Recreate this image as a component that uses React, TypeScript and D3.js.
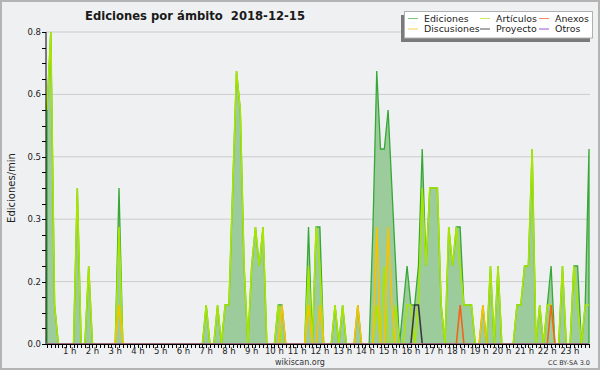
import * as d3 from 'd3';

// 10-minute slots, start minute of each one
const slots = d3.range(0, 1440, 10);
const hourLabels = ['1 h', '2 h', '3 h', '4 h', '5 h', '6 h', '7 h', '8 h', '9 h', '10 h', '11 h', '12 h',
  '13 h', '14 h', '15 h', '16 h', '17 h', '18 h', '19 h', '20 h', '21 h', '22 h', '23 h'];
const yTicks = [0, 0.16, 0.32, 0.48, 0.64, 0.8];

// edits per minute, 12 slots (2 hours) per row
const ediciones = [
  0.6, 0.8, 0.1, 0, 0, 0, 0, 0, 0.4, 0, 0, 0.2,
  0, 0, 0, 0, 0, 0, 0, 0.4, 0, 0, 0, 0,
  0, 0, 0, 0, 0, 0, 0, 0, 0, 0, 0, 0,
  0, 0, 0, 0, 0, 0, 0.1, 0, 0, 0.1, 0, 0.1,
  0.1, 0.4, 0.7, 0.6, 0.2, 0, 0.2, 0.3, 0.2, 0.3, 0, 0,
  0, 0.1, 0.1, 0, 0, 0, 0, 0, 0, 0.3, 0, 0.3,
  0.3, 0, 0, 0, 0.1, 0, 0.1, 0, 0, 0, 0.1, 0,
  0, 0, 0.3, 0.7, 0.5, 0.5, 0.6, 0.4, 0.2, 0, 0.1, 0.2,
  0.1, 0.1, 0.2, 0.5, 0.2, 0.4, 0.4, 0.4, 0.1, 0, 0.3, 0.2,
  0.3, 0.3, 0.1, 0.1, 0.1, 0, 0, 0.1, 0, 0.2, 0, 0.2,
  0, 0, 0, 0, 0.1, 0.1, 0.2, 0.2, 0.5, 0, 0.1, 0,
  0.1, 0.2, 0, 0, 0.2, 0, 0, 0.2, 0.2, 0, 0.1, 0.5,
];
const articulos = [
  0.6, 0.8, 0.1, 0, 0, 0, 0, 0, 0.4, 0, 0, 0.2,
  0, 0, 0, 0, 0, 0, 0, 0.3, 0, 0, 0, 0,
  0, 0, 0, 0, 0, 0, 0, 0, 0, 0, 0, 0,
  0, 0, 0, 0, 0, 0, 0.1, 0, 0, 0.1, 0, 0.1,
  0.1, 0.4, 0.7, 0.6, 0.2, 0, 0.2, 0.3, 0.2, 0.3, 0, 0,
  0, 0.1, 0, 0, 0, 0, 0, 0, 0, 0.2, 0, 0.3,
  0.2, 0, 0, 0, 0.1, 0, 0.1, 0, 0, 0, 0, 0,
  0, 0, 0, 0.1, 0, 0.2, 0, 0, 0.1, 0, 0, 0.1,
  0.1, 0, 0.1, 0.4, 0.2, 0.4, 0.4, 0.4, 0.1, 0, 0.3, 0.2,
  0.3, 0.2, 0.1, 0.1, 0.1, 0, 0, 0, 0, 0.2, 0, 0.2,
  0, 0, 0, 0, 0.1, 0.1, 0.2, 0.2, 0.5, 0, 0.1, 0,
  0.1, 0.1, 0, 0, 0.2, 0, 0, 0.2, 0.1, 0, 0.1, 0.1,
];
const discusiones = [
  0, 0, 0, 0, 0, 0, 0, 0, 0, 0, 0, 0,
  0, 0, 0, 0, 0, 0, 0, 0.1, 0, 0, 0, 0,
  0, 0, 0, 0, 0, 0, 0, 0, 0, 0, 0, 0,
  0, 0, 0, 0, 0, 0, 0, 0, 0, 0, 0, 0,
  0, 0, 0, 0, 0, 0, 0, 0, 0, 0, 0, 0,
  0, 0, 0.1, 0, 0, 0, 0, 0, 0, 0.1, 0, 0,
  0.1, 0, 0, 0, 0, 0, 0, 0, 0, 0, 0.1, 0,
  0, 0, 0, 0.3, 0, 0, 0.3, 0.1, 0, 0, 0, 0,
  0, 0, 0, 0, 0, 0, 0, 0, 0, 0, 0, 0,
  0, 0, 0, 0, 0, 0, 0, 0.1, 0, 0, 0, 0,
  0, 0, 0, 0, 0, 0, 0, 0, 0, 0, 0, 0,
  0, 0, 0, 0, 0, 0, 0, 0, 0, 0, 0, 0,
];
const anexos = [
  0, 0, 0, 0, 0, 0, 0, 0, 0, 0, 0, 0,
  0, 0, 0, 0, 0, 0, 0, 0, 0, 0, 0, 0,
  0, 0, 0, 0, 0, 0, 0, 0, 0, 0, 0, 0,
  0, 0, 0, 0, 0, 0, 0, 0, 0, 0, 0, 0,
  0, 0, 0, 0, 0, 0, 0, 0, 0, 0, 0, 0,
  0, 0, 0, 0, 0, 0, 0, 0, 0, 0, 0, 0,
  0, 0, 0, 0, 0, 0, 0, 0, 0, 0, 0, 0,
  0, 0, 0, 0, 0, 0, 0, 0, 0, 0, 0, 0,
  0, 0, 0, 0, 0, 0, 0, 0, 0, 0, 0, 0,
  0, 0.1, 0, 0, 0, 0, 0, 0, 0, 0, 0, 0,
  0, 0, 0, 0, 0, 0, 0, 0, 0, 0, 0, 0,
  0, 0.1, 0, 0, 0, 0, 0, 0, 0, 0, 0, 0,
];
const proyecto = [
  0, 0, 0, 0, 0, 0, 0, 0, 0, 0, 0, 0,
  0, 0, 0, 0, 0, 0, 0, 0, 0, 0, 0, 0,
  0, 0, 0, 0, 0, 0, 0, 0, 0, 0, 0, 0,
  0, 0, 0, 0, 0, 0, 0, 0, 0, 0, 0, 0,
  0, 0, 0, 0, 0, 0, 0, 0, 0, 0, 0, 0,
  0, 0, 0, 0, 0, 0, 0, 0, 0, 0, 0, 0,
  0, 0, 0, 0, 0, 0, 0, 0, 0, 0, 0, 0,
  0, 0, 0, 0, 0, 0, 0, 0, 0, 0, 0, 0,
  0, 0.1, 0.1, 0, 0, 0, 0, 0, 0, 0, 0, 0,
  0, 0, 0, 0, 0, 0, 0, 0, 0, 0, 0, 0,
  0, 0, 0, 0, 0, 0, 0, 0, 0, 0, 0, 0,
  0, 0, 0, 0, 0, 0, 0, 0, 0, 0, 0, 0,
];
const otros = slots.map(() => 0);

const lineSeries = [
  { name: 'Artículos', values: articulos, color: '#a8e600' },
  { name: 'Discusiones', values: discusiones, color: '#f7c200' },
  { name: 'Anexos', values: anexos, color: '#f26419' },
  { name: 'Proyecto', values: proyecto, color: '#3a3a3a' },
  { name: 'Otros', values: otros, color: '#9a4ae6' },
];
const legendItems = [
  { name: 'Ediciones', color: '#7cc87c' },
  { name: 'Artículos', color: '#c8ee60' },
  { name: 'Anexos', color: '#f58a60' },
  { name: 'Discusiones', color: '#f8d050' },
  { name: 'Proyecto', color: '#555555' },
  { name: 'Otros', color: '#9a55e0' },
];

const width = 600;
const height = 370;
const font = 'DejaVu Sans';

function App() {
  const x = d3.scaleLinear().domain([0, 1430]).range([47, 589]);
  const y = d3.scaleLinear().domain([0, 0.8]).range([344, 32]);

  const area = d3.area<number>()
    .x((_, i) => x(slots[i]))
    .y0(y(0))
    .y1((d) => y(d));
  const line = d3.line<number>()
    .x((_, i) => x(slots[i]))
    .y((d) => y(d));

  const minorY = d3.range(0, 0.8001, 0.04);
  const fmt = d3.format('.1f');
  const legendCols = [408, 480, 539];

  return (
    <>
      <style>{'body{margin:0}'}</style>
      <svg width={width} height={height} style={{ display: 'block', fontFamily: font }}>
        <defs>
          <clipPath id="plot">
            <rect x={46} y={0} width={545} height={343.6} />
          </clipPath>
        </defs>
        <rect x={1} y={1} width={width - 2} height={height - 2} fill="#eff0f2" stroke="#b4b4b4" strokeWidth={2} />

        <text x={85} y={19.5} fontSize={11.6} fontWeight="bold" fill="#1a1a1a" style={{ whiteSpace: 'pre' }}>
          {'Ediciones por ámbito  2018-12-15'}
        </text>

        {yTicks.slice(1).map((t) => (
          <line key={t} x1={46} x2={590} y1={y(t)} y2={y(t)} stroke="#cccccc" strokeWidth={1} />
        ))}

        <g clipPath="url(#plot)">
          <path d={area(ediciones) ?? ''} fill="#9ccb9c" stroke="#35a835" strokeWidth={1.3} />
          {lineSeries.map((s) => (
            <path key={s.name} d={line(s.values) ?? ''} fill="none" stroke={s.color} strokeWidth={1.6} />
          ))}
        </g>

        {/* y axis */}
        <line x1={46} x2={46} y1={32} y2={344.5} stroke="#000" />
        {minorY.map((t) => (
          <line key={t} x1={42} x2={46} y1={Math.round(y(t)) + 0.5} y2={Math.round(y(t)) + 0.5} stroke="#000" />
        ))}
        {yTicks.map((t) => (
          <text key={t} x={41} y={y(t)} dy="0.35em" textAnchor="end" fontSize={8.5} fill="#222">
            {fmt(t)}
          </text>
        ))}
        <text transform={`translate(15,${y(0.4)}) rotate(-90)`} textAnchor="middle" fontSize={10} fill="#222">
          Ediciones/min
        </text>

        {/* x axis */}
        <line x1={46} x2={590} y1={344.5} y2={344.5} stroke="#000" />
        {slots.map((m) => (
          <line key={m} x1={Math.round(x(m)) + 0.5} x2={Math.round(x(m)) + 0.5} y1={344} y2={348} stroke="#000" />
        ))}
        {hourLabels.map((label, i) => (
          <text key={label} x={x((i + 1) * 60)} y={354} textAnchor="middle" fontSize={8.5} fill="#222">
            {label}
          </text>
        ))}

        <text x={300} y={365} textAnchor="middle" fontSize={8} fill="#333">wikiscan.org</text>
        <text x={590} y={365} textAnchor="end" fontSize={6.5} fill="#333">CC BY-SA 3.0</text>

        {/* legend */}
        <rect x={401} y={15} width={189} height={27} fill="#7a7a7a" />
        <rect x={404.5} y={11.5} width={188} height={26.5} fill="#ffffff" stroke="#b0b0b0" />
        {legendItems.map((item, i) => {
          const lx = legendCols[i % 3];
          const ly = i < 3 ? 18.5 : 29;
          return (
            <g key={item.name}>
              <line x1={lx} x2={lx + 10} y1={ly} y2={ly} stroke={item.color} strokeWidth={1} />
              <text x={lx + 16} y={ly} dy="0.35em" fontSize={9.4} fill="#222">{item.name}</text>
            </g>
          );
        })}
      </svg>
    </>
  );
}

export default App;
